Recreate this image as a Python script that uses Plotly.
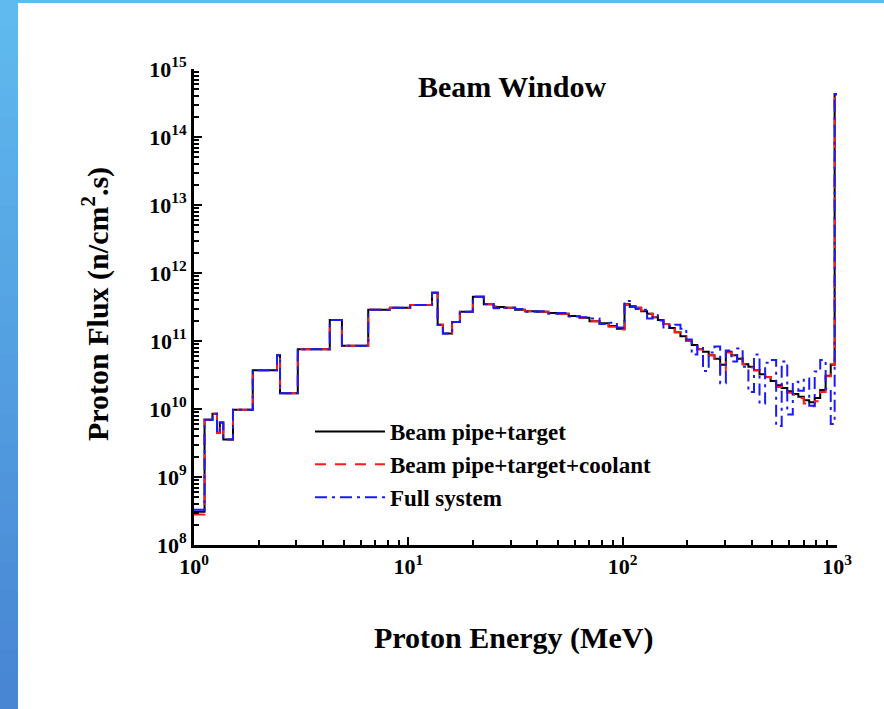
import plotly.graph_objects as go

# ---------------- data ----------------
# Energy bin edges (MeV)
energy_edges = [
    1.0, 1.12, 1.22, 1.28, 1.32, 1.37, 1.52, 1.88, 2.44, 2.52, 3.05, 4.3, 4.9,
    6.5, 8.2, 10.2, 12.9, 13.7, 14.5, 16.0, 17.4, 20.0,
    22.5, 25, 28, 31.5, 35, 40, 45, 50, 56, 63, 70, 78, 86, 94, 102,
    108, 115, 122, 130, 138, 146, 155, 165, 175, 186, 198, 210, 223, 237,
    252, 268, 285, 303, 322, 342, 363, 386, 410, 435, 462, 490, 520, 552,
    586, 622, 660, 700, 742, 787, 835, 885, 935, 975, 1000,
]

# Proton flux per bin (n/cm^2.s)
flux_pipe_target = [
    3.09e8, 6.92e9, 8.51e9, 4.47e9, 6.31e9, 3.55e9, 9.77e9, 3.72e10, 6.17e10,
    1.70e10, 7.59e10, 2.04e11, 8.51e10, 2.88e11, 3.09e11, 3.39e11, 5.13e11,
    1.74e11, 1.29e11, 1.91e11, 2.69e11,
    4.47e11, 3.47e11, 3.16e11, 3.09e11, 2.88e11, 2.75e11, 2.69e11, 2.57e11,
    2.51e11, 2.34e11, 2.19e11, 1.95e11, 1.82e11, 1.66e11, 1.51e11,
    3.47e11, 3.24e11, 3.09e11, 2.75e11, 2.51e11, 2.24e11, 2.04e11, 1.78e11,
    1.55e11, 1.35e11, 1.17e11, 1.00e11, 8.71e10, 7.59e10, 6.92e10, 6.17e10,
    5.50e10, 4.47e10, 6.92e10, 6.17e10, 5.50e10, 4.57e10, 4.17e10, 3.72e10,
    3.24e10, 2.95e10, 2.57e10, 2.24e10, 2.04e10, 1.82e10, 1.66e10, 1.51e10,
    1.35e10, 1.26e10, 1.45e10, 1.91e10, 3.09e10, 4.47e10, 4.27e14,
]

flux_pipe_target_coolant = [
    2.82e8, 6.92e9, 8.51e9, 4.47e9, 6.31e9, 3.55e9, 9.77e9, 3.72e10, 6.17e10,
    1.70e10, 7.59e10, 2.04e11, 8.51e10, 2.88e11, 3.09e11, 3.39e11, 5.13e11,
    1.74e11, 1.29e11, 1.91e11, 2.69e11,
    4.47e11, 3.47e11, 3.24e11, 3.09e11, 2.88e11, 2.75e11, 2.69e11, 2.57e11,
    2.51e11, 2.34e11, 2.19e11, 1.95e11, 1.86e11, 1.62e11, 1.48e11,
    3.39e11, 3.24e11, 3.09e11, 2.82e11, 2.51e11, 2.24e11, 2.00e11, 1.78e11,
    1.58e11, 1.35e11, 1.15e11, 1.00e11, 8.91e10, 7.59e10, 6.76e10, 6.17e10,
    5.20e10, 3.20e10, 6.76e10, 6.17e10, 5.62e10, 4.57e10, 4.07e10, 3.72e10,
    3.39e10, 2.95e10, 2.51e10, 2.10e10, 2.09e10, 1.74e10, 1.62e10, 1.45e10,
    1.20e10, 1.10e10, 1.30e10, 1.78e10, 3.02e10, 4.57e10, 4.27e14,
]

flux_full_system = [
    3.31e8, 6.92e9, 8.51e9, 4.47e9, 6.31e9, 3.55e9, 9.77e9, 3.72e10, 6.17e10,
    1.70e10, 7.59e10, 2.04e11, 8.51e10, 2.88e11, 3.09e11, 3.39e11, 5.13e11,
    1.74e11, 1.29e11, 1.91e11, 2.69e11,
    4.47e11, 3.47e11, 3.02e11, 3.09e11, 2.95e11, 2.69e11, 2.75e11, 2.51e11,
    2.57e11, 2.29e11, 2.24e11, 2.14e11, 1.78e11, 1.86e11, 1.58e11,
    3.89e11, 3.16e11, 2.95e11, 2.88e11, 2.14e11, 2.40e11, 2.00e11, 1.58e11,
    1.66e11, 1.74e11, 1.51e11, 1.05e11, 6.31e10, 8.32e10, 3.63e10, 6.76e10,
    8.32e10, 2.40e10, 7.24e10, 5.01e10, 7.76e10, 4.17e10, 1.78e10, 6.31e10,
    1.20e10, 4.79e10, 5.25e10, 5.62e9, 5.01e10, 8.32e9, 2.51e10, 1.86e10,
    2.82e10, 1.12e10, 3.55e10, 5.25e10, 2.00e10, 6.03e9, 4.27e14,
]

series_names = ["Beam pipe+target", "Beam pipe+target+coolant", "Full system"]
x_tick_values = [1, 10, 100, 1000]
x_tick_labels = ["10<sup>0</sup>", "10<sup>1</sup>", "10<sup>2</sup>", "10<sup>3</sup>"]
y_tick_values = [1e8, 1e9, 1e10, 1e11, 1e12, 1e13, 1e14, 1e15]
y_tick_labels = ["10<sup>8</sup>", "10<sup>9</sup>", "10<sup>10</sup>", "10<sup>11</sup>",
                 "10<sup>12</sup>", "10<sup>13</sup>", "10<sup>14</sup>", "10<sup>15</sup>"]

# ---------------- figure ----------------
FONT = "Liberation Serif"
W, H = 884, 709
L, R, T, B = 194, 47, 69, 164
PW, PH = W - L - R, H - T - B


def px_x(px):
    return (px - L) / PW


def px_y(py):
    return (H - B - py) / PH


def steps(values):
    # step histogram: each value holds from its left edge to the next edge
    return list(values) + [values[-1]]


fig = go.Figure()
styles = [
    dict(color="black", width=2, dash="solid"),
    dict(color="#ff1a1a", width=2, dash="11px,9px"),
    dict(color="#1a1aff", width=2, dash="12px,5px,3px,5px"),
]
for name, vals, st in zip(series_names,
                          [flux_pipe_target, flux_pipe_target_coolant, flux_full_system],
                          styles):
    fig.add_trace(go.Scatter(
        x=energy_edges, y=steps(vals), mode="lines", name=name,
        line=dict(shape="hv", **st),
    ))

minor_vals = [m * d for d in (1, 10, 100) for m in range(2, 10)]
minor_y = [m * 10 ** e for e in range(8, 15) for m in range(2, 10)]

tick_font = dict(family=FONT, size=22, color="black", weight="bold")
fig.update_xaxes(
    type="log", range=[0, 3],
    showline=True, linewidth=3, linecolor="black", mirror=False,
    showgrid=False, zeroline=False,
    tickmode="array", tickvals=x_tick_values, ticktext=x_tick_labels,
    ticks="inside", ticklen=8, tickwidth=2, tickcolor="black",
    tickfont=tick_font,
    minor=dict(ticks="inside", ticklen=5, tickwidth=2, tickcolor="black",
               tickvals=minor_vals, showgrid=False),
)
fig.update_yaxes(
    type="log", range=[8, 15],
    showline=True, linewidth=3, linecolor="black", mirror=False,
    showgrid=False, zeroline=False,
    tickmode="array", tickvals=y_tick_values, ticktext=y_tick_labels,
    ticks="inside", ticklen=8, tickwidth=2, tickcolor="black",
    tickfont=tick_font,
    minor=dict(ticks="inside", ticklen=5, tickwidth=2, tickcolor="black",
               tickvals=minor_y, showgrid=False),
)

# decorative slide border (blue strips)
shapes = []
top_col = (96, 186, 239)
bot_col = (72, 134, 212)
n_band = 24
y_top, y_bot = px_y(0), px_y(H)
band_h = (y_top - y_bot) / n_band
for i in range(n_band):
    t = i / (n_band - 1)
    c = tuple(int(top_col[k] + (bot_col[k] - top_col[k]) * t) for k in range(3))
    y1 = y_top - band_h * i
    y0 = y1 - band_h * 1.6
    shapes.append(dict(type="rect", xref="paper", yref="paper",
                       x0=px_x(0), x1=px_x(18), y0=max(y0, y_bot), y1=y1,
                       fillcolor="rgb(%d,%d,%d)" % c, line=dict(width=0), layer="below"))
shapes.append(dict(type="rect", xref="paper", yref="paper",
                   x0=px_x(0), x1=px_x(W), y0=px_y(3), y1=y_top,
                   fillcolor="rgb(96,186,239)", line=dict(width=0), layer="below"))

fig.update_layout(
    width=W, height=H,
    margin=dict(l=L, r=R, t=T, b=B),
    paper_bgcolor="white", plot_bgcolor="white",
    font=dict(family=FONT, color="black"),
    shapes=shapes,
    showlegend=True,
    legend=dict(
        x=px_x(310), y=px_y(410), xanchor="left", yanchor="top",
        bgcolor="rgba(0,0,0,0)", borderwidth=0,
        font=dict(family=FONT, size=23, color="black", weight="bold"),
        itemwidth=70,
    ),
    annotations=[
        dict(text="<b>Beam Window</b>", xref="paper", yref="paper",
             x=px_x(512), y=px_y(87), xanchor="center", yanchor="middle",
             showarrow=False, font=dict(family=FONT, size=30, color="black")),
        dict(text="<b>Proton Energy (MeV)</b>", xref="paper", yref="paper",
             x=px_x(513), y=px_y(638), xanchor="center", yanchor="middle",
             showarrow=False, font=dict(family=FONT, size=30, color="black")),
        dict(text="<b>Proton Flux (n/cm<sup>2</sup>.s)</b>", xref="paper", yref="paper",
             x=px_x(95), y=px_y(304), xanchor="center", yanchor="middle",
             showarrow=False, textangle=-90,
             font=dict(family=FONT, size=30, color="black")),
    ],
)

fig.write_html("out.html", config={"displayModeBar": False},
               post_script="document.body.style.margin='0px';")
